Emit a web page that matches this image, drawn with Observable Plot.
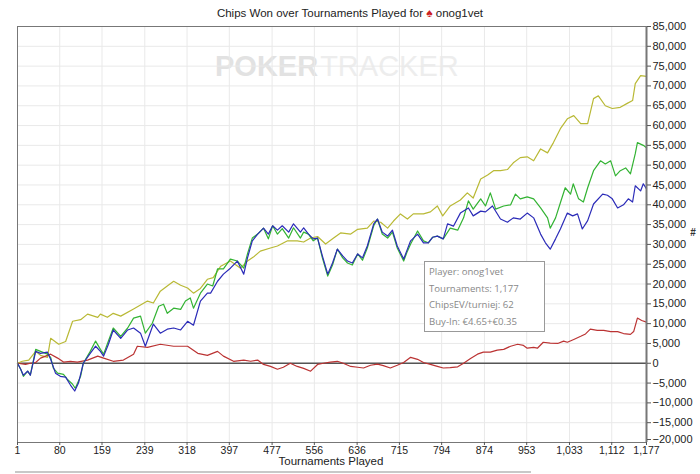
<!DOCTYPE html>
<html><head><meta charset="utf-8">
<script src="https://cdn.jsdelivr.net/npm/d3@7"></script>
<script src="https://cdn.jsdelivr.net/npm/@observablehq/plot@0.6"></script>
<style>body{margin:0;background:#fff} svg{display:block}</style>
</head><body><div id="chart"></div>
<script>
const titleText = "Chips Won over Tournaments Played for";
const playerName = "onog1vet";
const xLabel = "Tournaments Played";
const yLabel = "#";
const xTicks = [1,80,159,239,318,397,477,556,636,715,794,874,953,1033,1112,1177];
const yTicks = d3.range(-20000, 85001, 5000);
const infoLines = ["Player: onog1vet","Tournaments: 1,177","ChipsEV/turniej: 62","Buy-In: €4.65+€0.35"];
const watermark = ["POKER","TRACKER"];

// yellow series
const yellowT = [1,10,22,35,44,57,63,78,91,104,119,132,151,156,169,180,194,218,244,255,268,281,293,306,319,330,343,356,367,381,399,418,431,442,455,474,487,506,524,536,549,562,577,592,605,624,637,655,667,680,693,704,717,730,741,760,773,786,796,810,829,842,853,867,880,891,904,917,928,941,954,966,979,992,1003,1016,1029,1041,1054,1067,1078,1087,1100,1113,1128,1141,1151,1156,1166,1177];
const yellowV = [0,500,800,3000,2000,1500,6300,4800,5500,10600,11000,12400,11600,12400,11600,12600,11900,13700,15700,15200,18200,19500,20700,19700,19000,17700,18900,21200,21600,24500,25800,24000,25800,26800,28300,29100,29600,30900,30900,30600,31600,32000,30100,31600,32900,32600,33800,34100,35900,35600,34100,35900,37700,36400,37700,37700,38200,39700,37200,39700,41200,43000,41700,46500,47500,48600,48600,48900,50600,51900,52100,51100,54100,53100,55700,59200,61700,62500,60500,60500,66800,67500,65000,64300,64600,65600,66300,70600,72600,72400];

// green series
const greenT = [1,7,12,20,25,35,44,57,63,68,76,87,94,104,109,119,124,137,147,156,162,171,180,194,207,218,231,240,253,265,274,281,293,306,315,324,330,343,356,366,375,386,399,412,424,431,440,450,461,470,478,487,496,508,517,530,536,545,554,562,571,581,590,599,609,618,627,637,646,655,667,674,683,693,702,711,723,730,736,749,760,769,777,786,797,810,824,835,844,853,867,876,885,895,910,923,932,941,954,966,979,992,997,1007,1016,1025,1035,1040,1050,1059,1067,1078,1091,1100,1110,1119,1128,1138,1147,1156,1160,1171,1177];
const greenV = [0,-1500,-3300,-2000,-3000,3500,3000,2300,1500,-1200,-2500,-2800,-4000,-5300,-6300,-3300,0,3000,5600,3500,2300,5600,8900,6800,8900,11400,11900,7600,10100,14400,14900,12600,13900,13600,15700,16500,13900,17700,20000,19500,23800,23800,26300,25800,24000,27600,31600,32600,34100,31400,34700,32600,34000,31600,34200,31600,33100,32600,30900,31600,26600,22000,24800,28800,26600,25300,24800,27600,26000,29100,34700,36400,32600,31600,33100,29100,25800,28300,30100,33400,30900,30400,31800,32100,31400,34100,33600,36700,41000,38900,41500,39700,43000,38900,39700,40000,42700,41500,42000,41500,39200,36700,34100,36700,40500,44300,42700,45300,41500,40700,44300,48600,51100,50300,51100,47300,48600,49300,47800,52900,55700,55000,54400];

// blue series
const blueT = [1,7,12,20,25,35,44,57,63,72,81,91,100,108,115,124,137,147,156,162,171,180,194,207,218,231,240,255,268,281,293,306,319,330,343,356,362,375,386,399,412,424,431,440,450,461,470,478,487,496,508,517,530,536,545,554,562,571,581,590,599,609,618,627,637,646,655,667,674,683,693,702,711,723,730,736,749,760,769,777,786,797,805,816,829,844,853,867,876,889,904,917,928,941,954,966,979,988,997,1007,1016,1029,1039,1048,1057,1067,1078,1095,1104,1113,1123,1134,1143,1151,1156,1166,1171,1177];
const blueV = [0,-1500,-3000,-2000,-3000,3000,2500,2800,1000,-2500,-3300,-3500,-5500,-7000,-5000,0,2500,4300,3000,1800,4800,8400,6300,8400,8900,7600,4300,9900,7600,8600,8900,8400,10600,9600,15700,17700,17700,20700,22500,24000,25800,22500,26600,30900,32600,34100,32600,34700,33600,34700,33100,35200,33100,34200,32600,31400,31600,27100,22500,25300,28800,27100,25800,25300,27600,26600,29600,35200,36400,33100,32100,33600,29600,26300,28800,30900,32600,30400,30400,31800,32100,31400,35200,34600,37900,39200,37200,38400,38200,39700,36400,35600,36700,36400,37900,36700,32600,30400,28800,31400,33900,37900,37200,37700,33900,36000,40200,42700,42400,41500,39200,40000,41500,40700,44800,43500,45300,44000];

// red series
const redT = [1,16,25,35,44,63,76,87,100,113,132,151,162,180,199,218,225,244,268,293,319,338,356,375,386,405,424,437,450,461,474,487,498,511,524,536,549,562,573,586,599,610,624,637,648,661,674,685,698,711,723,736,749,760,773,786,797,810,824,835,848,861,872,885,898,910,923,936,947,954,966,973,984,997,1011,1022,1029,1041,1054,1063,1072,1085,1097,1110,1123,1134,1147,1153,1160,1168,1177];
const redV = [0,-300,0,200,1300,2300,1300,300,500,300,800,1800,1300,500,800,2300,4300,4000,4800,4300,4300,2500,2000,3000,1800,500,800,500,800,-300,-800,-1500,-1000,0,-800,-1300,-2000,-300,0,300,500,0,-800,-1000,-1200,-500,-200,-600,-1200,-500,200,1500,1000,200,-300,-800,-1200,-1100,-900,0,1200,2300,2800,2800,3300,3500,4300,4800,4500,3800,4000,3800,5300,5100,5000,5600,5300,6000,6800,7400,8600,8300,8300,8000,8000,7500,7300,8000,11400,10800,10400];

const seriesDefs = [
  {t: yellowT, v: yellowV, color: "#b9b935"},
  {t: redT, v: redV, color: "#bb3333"},
  {t: greenT, v: greenV, color: "#33b333"},
  {t: blueT, v: blueV, color: "#2b2bb8"}
];

const fmt = d3.format(",");
const plot = Plot.plot({
  width: 700, height: 474,
  marginLeft: 17, marginRight: 54, marginTop: 26, marginBottom: 32,
  style: {fontFamily: "'Liberation Sans', Arial, sans-serif", fontSize: "11px", background: "#fff", color: "#222"},
  x: {domain: [1, 1177]},
  y: {domain: [-20000, 85000]},
  marks: [
    Plot.gridX(xTicks, {stroke: "#e9e9e9", strokeOpacity: 1}),
    Plot.gridY(yTicks, {stroke: "#e9e9e9", strokeOpacity: 1}),
    Plot.ruleY([0], {stroke: "#555", strokeWidth: 1.6}),
    ...seriesDefs.map(s => Plot.line(s.t, {x: s.t, y: s.v, stroke: s.color, strokeWidth: 1.2})),
    Plot.frame({stroke: "#777"}),
    Plot.ruleX([1177], {stroke: "#777", strokeWidth: 2}),
    Plot.axisX(xTicks, {anchor: "bottom", tickFormat: fmt, tickSize: 3, tickPadding: 1, label: null, stroke: "#555", fontSize: 10.5}),
    Plot.axisY(yTicks.filter(d => d > -20000), {anchor: "right", tickFormat: fmt, tickSize: 4, tickPadding: 2, label: null, stroke: "#555", fontSize: 11}),
    Plot.axisY([-20000], {anchor: "right", tickFormat: fmt, tickSize: 4, tickPadding: 2, label: null, stroke: "#555", fontSize: 11, dy: -3})
  ]
});
document.getElementById("chart").appendChild(plot);

const svg = d3.select(plot);
const ff = "'Liberation Sans', Arial, sans-serif";
// watermark: two adjacent, non-overlapping texts
const wmG = svg.insert("g", ":first-child").attr("font-family", ff).attr("font-size", 29).attr("text-anchor", "start");
const w1 = wmG.append("text").attr("x", 215).attr("y", 76).attr("font-weight", "bold").attr("fill", "#e2e2e2").text(watermark[0]);
const w1len = w1.node().getComputedTextLength();
wmG.append("text").attr("x", 215 + w1len + 2).attr("y", 76).attr("font-weight", "normal").attr("fill", "#ededed").text(watermark[1]);
svg.insert("rect", ":first-child").attr("width", 700).attr("height", 474).attr("fill", "#fff");

// title
const tt = svg.append("text").attr("x", 350).attr("y", 17).attr("text-anchor", "middle")
  .attr("font-family", ff).attr("font-size", 11.5).attr("fill", "#222");
tt.append("tspan").text(titleText + " ");
tt.append("tspan").attr("fill", "#cc2222").attr("font-size", 12).text("\u2660");
tt.append("tspan").text(" " + playerName);

// x label
svg.append("text").attr("x", 331).attr("y", 465).attr("text-anchor", "middle")
  .attr("font-family", ff).attr("font-size", 11.5).attr("fill", "#222").text(xLabel);
// y label
svg.append("text").attr("x", 693).attr("y", 236).attr("text-anchor", "middle")
  .attr("font-family", ff).attr("font-size", 10).attr("font-weight", "bold").attr("fill", "#333").text(yLabel);
// scrollbar
svg.append("rect").attr("x", 15).attr("y", 471).attr("width", 516).attr("height", 2).attr("fill", "#c8c8c8");

// info box
const ib = svg.append("g").attr("text-anchor", "start");
ib.append("rect").attr("x", 424.5).attr("y", 261.5).attr("width", 120).attr("height", 70).attr("fill", "#fff").attr("stroke", "#999");
infoLines.forEach((s, i) => {
  ib.append("text").attr("x", 429).attr("y", 275 + i * 16.5).attr("font-family", "'Open Sans', 'Noto Sans', sans-serif")
    .attr("font-size", 9.6).attr("fill", "#888").text(s);
});
</script>
</body></html>
